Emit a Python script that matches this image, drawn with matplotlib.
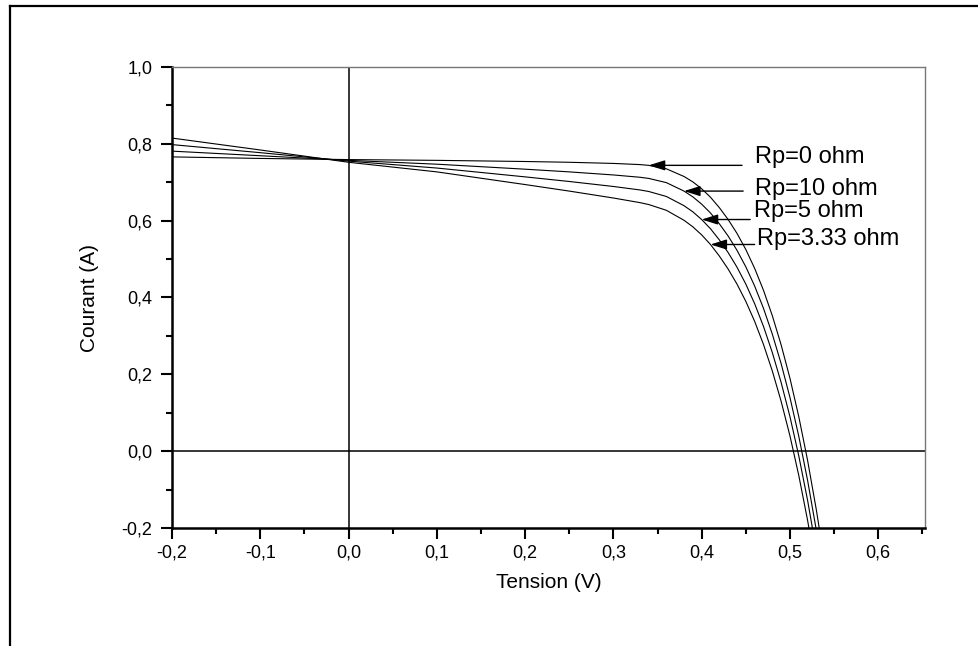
import numpy as np
import matplotlib
matplotlib.use('Agg')
import matplotlib.pyplot as plt
from matplotlib.lines import Line2D
from matplotlib.ticker import MultipleLocator, FuncFormatter

plt.rcParams['font.family'] = ['Liberation Sans', 'DejaVu Sans']

# Tension (V) commune aux quatre courbes
tension = [-0.2, -0.1, 0.0, 0.1, 0.2, 0.25, 0.3, 0.33, 0.34, 0.36, 0.38, 0.39, 0.40,
           0.41, 0.42, 0.43, 0.44, 0.45, 0.46, 0.47, 0.48, 0.49, 0.50, 0.51, 0.52, 0.53, 0.54]

# Courant (A) pour chaque Rp
i_rp0 = [0.766, 0.762, 0.759, 0.757, 0.754, 0.752, 0.749, 0.746, 0.744, 0.735, 0.715, 0.701, 0.683,
         0.661, 0.634, 0.603, 0.567, 0.525, 0.476, 0.419, 0.353, 0.277, 0.190, 0.090, -0.024, -0.154, -0.300]
i_rp10 = [0.781, 0.769, 0.757, 0.747, 0.734, 0.727, 0.719, 0.713, 0.710, 0.699, 0.677, 0.662, 0.643,
          0.620, 0.592, 0.560, 0.523, 0.480, 0.430, 0.372, 0.305, 0.228, 0.140, 0.039, -0.076, -0.207, -0.354]
i_rp5 = [0.798, 0.777, 0.755, 0.737, 0.714, 0.702, 0.689, 0.680, 0.676, 0.663, 0.639, 0.623, 0.603,
         0.579, 0.550, 0.517, 0.479, 0.435, 0.384, 0.325, 0.257, 0.179, 0.090, -0.012, -0.128, -0.260, -0.408]
i_rp333 = [0.815, 0.784, 0.752, 0.727, 0.694, 0.677, 0.659, 0.647, 0.642, 0.627, 0.601, 0.584, 0.563,
           0.538, 0.508, 0.474, 0.435, 0.390, 0.338, 0.278, 0.209, 0.130, 0.040, -0.063, -0.180, -0.313, -0.462]

courbes = [i_rp0, i_rp10, i_rp5, i_rp333]
labels = ['Rp=0 ohm', 'Rp=10 ohm', 'Rp=5 ohm', 'Rp=3.33 ohm']
# indice du point visé par chaque flèche
idx_fleche = [8, 10, 12, 13]
x_queue = [0.4457, 0.447, 0.455, 0.46]
x_texte = [0.4604, 0.4604, 0.459, 0.4625]
y_texte = [0.766, 0.682, 0.624, 0.551]

fig = plt.figure(figsize=(9.79, 6.46), dpi=100)
ax = fig.add_axes([172 / 979, 1 - 528 / 646, (925 - 172) / 979, (528 - 67) / 646])

for c in courbes:
    ax.plot(tension, c, color='black', lw=0.8)

ax.axhline(0, color='black', lw=1.1)
ax.axvline(0, color='black', lw=1.1)

for k in range(4):
    i = idx_fleche[k]
    tip = (tension[i], courbes[k][i])
    ax.annotate('', xy=tip, xytext=(x_queue[k], tip[1]),
                arrowprops=dict(arrowstyle='-|>,head_length=0.7,head_width=0.22',
                                color='black', lw=1.0, mutation_scale=14,
                                shrinkA=0, shrinkB=0))
    ax.text(x_texte[k], y_texte[k], labels[k], fontsize=17, ha='left', va='center')

ax.set_xlim(-0.2, 0.653)
ax.set_ylim(-0.2, 1.0)
ax.xaxis.set_major_locator(MultipleLocator(0.1))
ax.xaxis.set_minor_locator(MultipleLocator(0.05))
ax.yaxis.set_major_locator(MultipleLocator(0.2))
ax.yaxis.set_minor_locator(MultipleLocator(0.1))
virgule = FuncFormatter(lambda v, p: f'{v:.1f}'.replace('.', ',').replace('-0,0', '0,0'))
ax.xaxis.set_major_formatter(virgule)
ax.yaxis.set_major_formatter(virgule)

ax.tick_params(which='major', direction='out', length=8, width=1.5, labelsize=13)
ax.tick_params(which='minor', direction='out', length=4.5, width=1.5)
ax.tick_params(axis='y', which='major', pad=6)
ax.tick_params(axis='x', which='major', pad=4)

for s in ['left', 'bottom']:
    ax.spines[s].set_linewidth(1.8)
    ax.spines[s].set_color('black')
for s in ['top', 'right']:
    ax.spines[s].set_linewidth(1.0)
    ax.spines[s].set_color('#777777')

ax.set_xlabel('Tension (V)', fontsize=15, labelpad=8)
ax.set_ylabel('Courant (A)', fontsize=15, labelpad=16)

# cadre extérieur
fig.add_artist(Line2D([9.5 / 979, 1.0], [1 - 5.5 / 646, 1 - 5.5 / 646], color='black', lw=1.6))
fig.add_artist(Line2D([9.5 / 979, 9.5 / 979], [0, 1 - 5.5 / 646], color='black', lw=1.6))

fig.savefig('out.png', dpi=100)
